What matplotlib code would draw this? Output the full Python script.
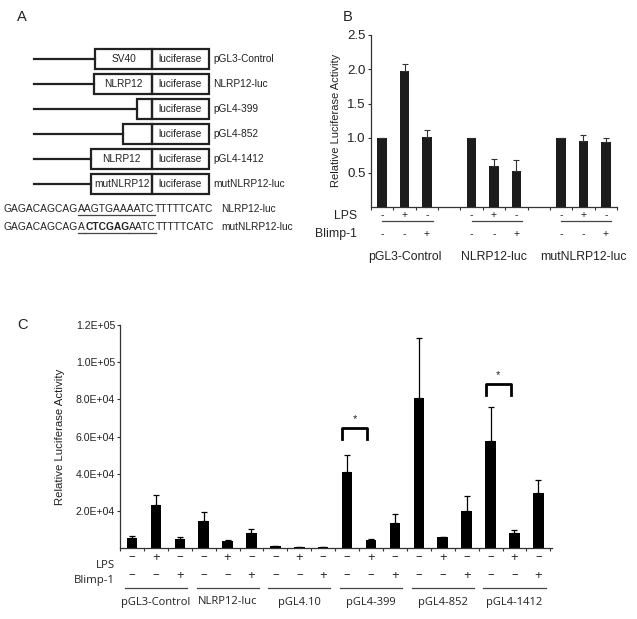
import matplotlib.pyplot as plt
from matplotlib.patches import Rectangle
import matplotlib.transforms as mtrans

plt.rcParams['font.family'] = ['Liberation Sans', 'DejaVu Sans']

# ---- panel A: reporter constructs ----
constructs = ['pGL3-Control', 'NLRP12-luc', 'pGL4-399', 'pGL4-852', 'pGL4-1412', 'mutNLRP12-luc']
promoters = ['SV40', 'NLRP12', '', '', 'NLRP12', 'mutNLRP12']
promoter_left = [95, 94, 137, 123, 91, 91]   # promoter length drawn as box start (px)
seq_rows = [
    ([('GAGACAGCAG', False, False), ('AAGTGAAAATC', False, True), ('TTTTTCATC', False, False)], 'NLRP12-luc'),
    ([('GAGACAGCAG', False, False), ('A', False, True), ('CTCGAG', True, True), ('AATC', False, True),
      ('TTTTTCATC', False, False)], 'mutNLRP12-luc'),
]

# ---- panel B: normalised activity ----
B_groups = ['pGL3-Control', 'NLRP12-luc', 'mutNLRP12-luc']
B_vals = [1.0, 1.97, 1.02, 1.0, 0.59, 0.52, 1.0, 0.95, 0.94]
B_err = [0.0, 0.10, 0.09, 0.0, 0.10, 0.16, 0.0, 0.10, 0.06]
B_lps = ['-', '+', '-'] * 3
B_blimp = ['-', '-', '+'] * 3

# ---- panel C: raw activity ----
C_groups = ['pGL3-Control', 'NLRP12-luc', 'pGL4.10', 'pGL4-399', 'pGL4-852', 'pGL4-1412']
C_vals = [5400, 23300, 5000, 14500, 3800, 7900, 900, 300, 800,
          40800, 4500, 13300, 80600, 5700, 20100, 57700, 8200, 29700]
C_err = [900, 5200, 900, 4800, 500, 2300, 0, 0, 0,
         9300, 300, 5000, 32200, 400, 7800, 18200, 1400, 6800]
C_lps = ['\u2013', '+', '\u2013'] * 6
C_blimp = ['\u2013', '\u2013', '+'] * 6
C_sig = [(9, 10, 64500), (15, 16, 88300)]

txt = '#222222'
fig = plt.figure(figsize=(6.37, 6.19), dpi=100)

# overlay in pixel units (top-left origin)
axA = fig.add_axes([0, 0, 1, 1])
axA.set_xlim(0, 637)
axA.set_ylim(619, 0)
axA.axis('off')

axA.text(22, 17, 'A', fontsize=10.5, color=txt, ha='center', va='center')
axA.text(348, 17, 'B', fontsize=10.5, color=txt, ha='center', va='center')
axA.text(22, 325, 'C', fontsize=10.5, color=txt, ha='center', va='center')

for i, (name, prom, left) in enumerate(zip(constructs, promoters, promoter_left)):
    y = 59 + 25 * i
    axA.plot([34, left], [y, y], color='#222', lw=1.6)
    axA.add_patch(Rectangle((left, y - 10), 152 - left, 20, fill=False, ec='#222', lw=1.6))
    axA.add_patch(Rectangle((152, y - 10), 57, 20, fill=False, ec='#222', lw=1.6))
    axA.text((left + 152) / 2, y, prom, fontsize=7.3, color=txt, ha='center', va='center')
    axA.text(180.5, y, 'luciferase', fontsize=7.3, color=txt, ha='center', va='center')
    axA.text(213, y, name, fontsize=7.3, color=txt, ha='left', va='center')

r = fig.canvas.get_renderer()
for k, (parts, lab) in enumerate(seq_rows):
    y = 209 + 18 * k
    x = 4
    for s, bold, ul in parts:
        t = axA.text(x, y, s, fontsize=7.4, color=txt, ha='left', va='center',
                     fontweight='bold' if bold else 'normal')
        w = t.get_window_extent(renderer=r).width
        if ul:
            axA.plot([x, x + w], [y + 6, y + 6], color='#444', lw=0.9)
        x += w
    axA.text(221, y, lab, fontsize=7.3, color=txt, ha='left', va='center')

# ---- panel B ----
axB = fig.add_axes([371 / 637, 1 - 207 / 619, 246 / 637, 172.5 / 619])
xB = [g * 4 + j for g in range(3) for j in range(3)]
axB.bar(xB, B_vals, width=0.42, color='#1c1c1c')
axB.errorbar(xB, B_vals, yerr=[[0] * 9, B_err], fmt='none', ecolor='#333', elinewidth=0.8,
             capsize=2, capthick=0.8)
axB.set_xlim(-0.5, 10.5)
axB.set_ylim(0, 2.5)
axB.set_yticks([0.5, 1.0, 1.5, 2.0, 2.5])
axB.set_yticklabels(['0.5', '1.0', '1.5', '2.0', '2.5'], fontsize=9.5, color=txt)
axB.set_xticks([p + 0.5 for p in range(-1, 11)])
axB.set_xticklabels([])
axB.tick_params(axis='both', length=2, width=0.8, color='#333', pad=2)
for s in ['top', 'right']:
    axB.spines[s].set_visible(False)
for s in ['left', 'bottom']:
    axB.spines[s].set_linewidth(0.9)
    axB.spines[s].set_color('#333')
axB.set_ylabel('Relative Luciferase Activity', fontsize=8, color=txt, labelpad=4)

tB = mtrans.blended_transform_factory(axB.transData, axA.transData)
for p, a, b in zip(xB, B_lps, B_blimp):
    axA.text(p, 215, a, transform=tB, fontsize=7.5, color=txt, ha='center', va='center')
    axA.text(p, 234, b, transform=tB, fontsize=7.5, color=txt, ha='center', va='center')
for g, name in enumerate(B_groups):
    axA.plot([g * 4, g * 4 + 2.25], [221, 221], transform=tB, color='#444', lw=0.9)
    axA.text(g * 4 + 1, 257, name, transform=tB, fontsize=8.8, color=txt, ha='center', va='center')
axA.text(357, 216, 'LPS', fontsize=8.8, color=txt, ha='right', va='center')
axA.text(357, 234, 'Blimp-1', fontsize=8.8, color=txt, ha='right', va='center')

# ---- panel C ----
axC = fig.add_axes([120 / 637, 1 - 548 / 619, 432 / 637, 223 / 619])
xC = list(range(18))
axC.bar(xC, C_vals, width=0.44, color='black')
axC.errorbar(xC, C_vals, yerr=[[0] * 18, C_err], fmt='none', ecolor='black', elinewidth=0.9,
             capsize=2, capthick=0.9)
axC.set_xlim(-0.5, 17.57)
axC.set_ylim(0, 120000)
yt = [20000, 40000, 60000, 80000, 100000, 120000]
axC.set_yticks(yt)
axC.set_yticklabels(['2.0E+04', '4.0E+04', '6.0E+04', '8.0E+04', '1.0E+05', '1.2E+05'],
                    fontsize=7.6, color=txt)
axC.set_xticks([p + 0.5 for p in range(-1, 18)])
axC.set_xticklabels([])
axC.tick_params(axis='both', length=2.5, width=0.8, color='#333', pad=1)
for s in ['top', 'right']:
    axC.spines[s].set_visible(False)
for s in ['left', 'bottom']:
    axC.spines[s].set_linewidth(0.9)
    axC.spines[s].set_color('#333')
axC.set_ylabel('Relative Luciferase Activity', fontsize=8.2, color=txt, labelpad=8)

for a, b, h in C_sig:
    axC.plot([a - 0.2, a - 0.2, b - 0.15, b - 0.15], [h - 6000, h, h, h - 6000], color='black', lw=2,
             clip_on=False)
    axC.text((a + b) / 2 - 0.17, h + 2000, '*', fontsize=8, color=txt, ha='center', va='bottom')

tC = mtrans.blended_transform_factory(axC.transData, axA.transData)
for p, a, b in zip(xC, C_lps, C_blimp):
    axA.text(p, 557, a, transform=tC, fontsize=9.5, color=txt, ha='center', va='center', family='Open Sans')
    axA.text(p, 575, b, transform=tC, fontsize=9.5, color=txt, ha='center', va='center', family='Open Sans')
for g, name in enumerate(C_groups):
    axA.plot([g * 3 - 0.3, g * 3 + 2.3], [588, 588], transform=tC, color='#444', lw=0.9)
    axA.text(g * 3 + 1, 602, name, transform=tC, fontsize=8, color=txt, ha='center', va='center',
             family='Open Sans')
axA.text(115, 565, 'LPS', fontsize=8.2, color=txt, ha='right', va='center', family='Open Sans')
axA.text(115, 580, 'Blimp-1', fontsize=8.2, color=txt, ha='right', va='center', family='Open Sans')

fig.savefig('out.png', dpi=100)
